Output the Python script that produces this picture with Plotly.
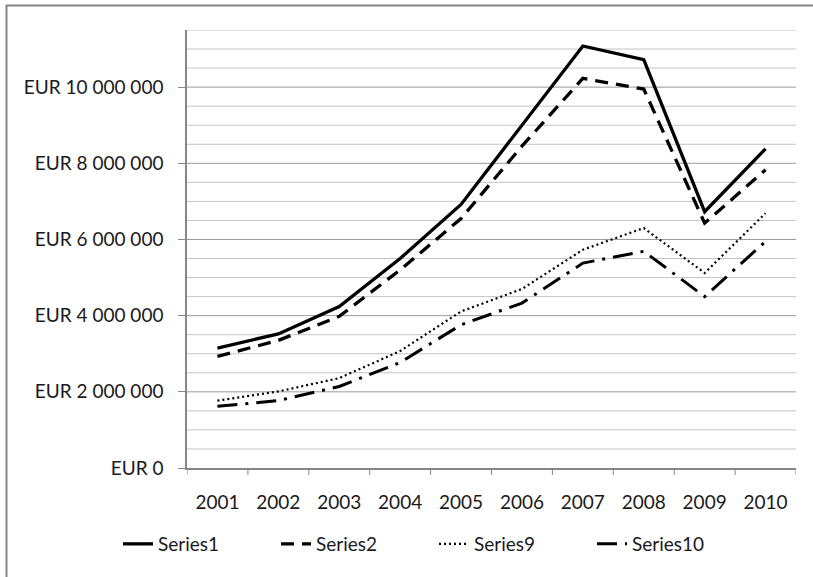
import plotly.graph_objects as go

years = ["2001", "2002", "2003", "2004", "2005", "2006", "2007", "2008", "2009", "2010"]
series1 = [3150000, 3520000, 4240000, 5500000, 6920000, 9010000, 11080000, 10720000, 6730000, 8380000]
series2 = [2930000, 3350000, 3980000, 5200000, 6550000, 8450000, 10230000, 9950000, 6430000, 7830000]
series9 = [1770000, 2010000, 2360000, 3070000, 4110000, 4700000, 5730000, 6300000, 5120000, 6690000]
series10 = [1620000, 1770000, 2140000, 2770000, 3760000, 4330000, 5380000, 5690000, 4500000, 5950000]
names = ["Series1", "Series2", "Series9", "Series10"]
ytick_vals = [0, 2000000, 4000000, 6000000, 8000000, 10000000]
ytick_text = ["EUR 0", "EUR 2 000 000", "EUR 4 000 000", "EUR 6 000 000", "EUR 8 000 000", "EUR 10 000 000"]
y_max = 11500000
y_minor_step = 500000

FONT = "Lato"
W, H = 813, 577
ML, MR, MT, MB = 187, 17, 30, 109
pw = W - ML - MR
ph = H - MT - MB

xpos = list(range(len(years)))

styles = [
    dict(color="#000000", width=3.3, dash="solid"),
    dict(color="#000000", width=3.3, dash="13px,8px"),
    dict(color="#000000", width=2.2, dash="2px,3px"),
    dict(color="#000000", width=3.0, dash="20px,8px,3px,8px"),
]

fig = go.Figure()
for nm, vals, st in zip(names, [series1, series2, series9, series10], styles):
    fig.add_trace(go.Scatter(x=xpos, y=vals, mode="lines", name=nm, line=st))

# horizontal gridlines (minor light, major darker), drawn beneath the data
n_steps = int(round(y_max / y_minor_step))
for i in range(1, n_steps + 1):
    v = i * y_minor_step
    is_major = v in ytick_vals
    fig.add_shape(type="line", xref="paper", yref="y", x0=0, x1=1, y0=v, y1=v,
                  line=dict(color="#9a9a9a" if is_major else "#c4c4c4", width=1),
                  layer="below")

# category boundary tick marks below the x axis
ticklen_paper = 7 / ph
for i in range(len(years) + 1):
    b = i - 0.5
    fig.add_shape(type="line", xref="x", yref="paper", x0=b, x1=b,
                  y0=0, y1=-ticklen_paper,
                  line=dict(color="#868686", width=1), layer="above")

def px_to_paper_x(px):
    return (px - ML) / pw

def px_to_paper_y(py):
    return (H - MB - py) / ph

fig.add_shape(type="rect", xref="paper", yref="paper",
              x0=px_to_paper_x(6.5), x1=px_to_paper_x(830),
              y0=px_to_paper_y(600), y1=px_to_paper_y(5.5),
              line=dict(color="#868686", width=2), fillcolor="rgba(0,0,0,0)", layer="below")

tickfont = dict(family=FONT, size=19, color="#1a1a1a")

fig.update_layout(
    template="none",
    width=W, height=H,
    margin=dict(l=ML, r=MR, t=MT, b=MB, autoexpand=False),
    paper_bgcolor="white", plot_bgcolor="white",
    font=dict(family=FONT, size=19, color="#1a1a1a"),
    showlegend=True,
    legend=dict(orientation="h", x=px_to_paper_x(118), xanchor="left",
                y=px_to_paper_y(544), yanchor="middle",
                font=dict(family=FONT, size=19, color="#1a1a1a"),
                entrywidth=113, bgcolor="rgba(0,0,0,0)", borderwidth=0),
    xaxis=dict(type="linear", range=[-0.5, len(years) - 0.5], showgrid=False,
               tickvals=xpos, ticktext=years, ticks="",
               showline=True, linecolor="#868686", linewidth=1.5,
               ticklabelstandoff=16, tickfont=tickfont, zeroline=False),
    yaxis=dict(range=[0, y_max], tickvals=ytick_vals, ticktext=ytick_text,
               showgrid=False,
               showline=True, linecolor="#868686", linewidth=1.5,
               ticks="outside", ticklen=7, tickcolor="#868686", tickwidth=1,
               ticklabelstandoff=11, tickfont=tickfont, zeroline=False),
)

fig.write_html("out.html", config={"displayModeBar": False},
               post_script="document.body.style.margin='0';document.body.style.padding='0';")
